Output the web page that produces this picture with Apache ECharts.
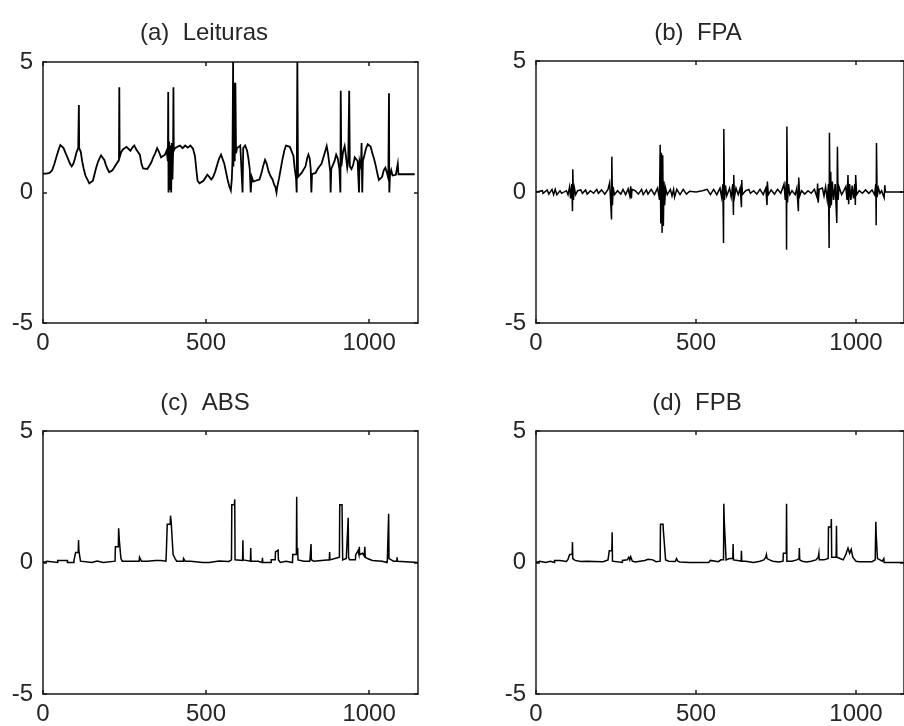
<!DOCTYPE html>
<html>
<head>
<meta charset="utf-8">
<script src="https://cdn.jsdelivr.net/npm/echarts@6/dist/echarts.min.js"></script>
<style>
html,body{margin:0;padding:0;background:#fff;}
#chart{width:904px;height:726px;}
</style>
</head>
<body>
<div id="chart"></div>
<script>
// ---- Data ----
var titles = ['(a)  Leituras', '(b)  FPA', '(c)  ABS', '(d)  FPB'];
var xTicks = [0, 500, 1000];
var yTicks = [-5, 0, 5];

// (a) Leituras
var leiturasX = [0,10,20,28,35,42,48,53,58,63,68,73,78,83,88,93,98,103,108,109,110,111,116,120,125,130,136,142,148,153,158,163,168,173,178,183,188,193,198,203,208,213,218,223,228,233,234,235,240,245,250,256,262,268,274,280,286,292,297,302,307,313,320,326,332,338,344,350,356,362,368,374,379,383,384,385,387,389,391,393,395,397,399,400,401,405,412,420,428,436,444,452,460,466,470,474,480,486,492,498,504,510,516,522,528,534,540,546,551,556,561,566,571,576,579,581,583,584,586,588,590,592,595,600,605,610,612,614,620,626,630,634,637,640,645,652,658,664,670,676,681,686,692,698,704,709,713,716,719,724,729,734,740,745,751,757,763,768,772,776,778,780,782,787,793,799,805,810,814,818,821,823,825,830,836,842,848,854,860,866,870,874,878,881,882,884,889,894,899,904,909,912,913,915,920,925,929,933,936,939,941,946,951,956,961,965,969,971,975,977,979,981,986,991,996,1000,1005,1010,1015,1020,1025,1030,1035,1040,1045,1050,1055,1059,1061,1062,1064,1068,1072,1077,1082,1086,1088,1090,1095,1100,1140];
var leiturasY = [0.72,0.72,0.75,0.85,1.1,1.4,1.65,1.82,1.78,1.7,1.55,1.4,1.25,1.1,1.0,1.1,1.3,1.55,1.7,1.7,3.35,1.7,1.55,1.2,0.9,0.65,0.5,0.35,0.3,0.45,0.7,0.95,1.15,1.3,1.42,1.38,1.25,1.05,0.9,0.78,0.75,0.85,0.95,1.05,1.15,1.25,4.03,1.35,1.55,1.65,1.68,1.75,1.7,1.6,1.72,1.8,1.65,1.7,1.45,1.1,0.92,0.88,0.9,0.95,1.15,1.35,1.5,1.7,1.55,1.35,1.3,1.45,1.6,1.2,3.85,0.0,1.95,0.1,1.8,0.0,1.9,0.5,1.6,4.03,1.6,1.7,1.75,1.8,1.7,1.8,1.72,1.8,1.68,1.4,0.9,0.45,0.35,0.4,0.45,0.5,0.68,0.6,0.5,0.6,0.8,1.05,1.3,1.45,1.4,1.1,0.8,0.5,0.25,0.08,0.5,1.2,5.0,1.0,4.2,1.2,4.2,1.5,1.7,1.65,1.8,1.75,0.0,1.7,1.8,1.6,1.3,0.9,0.0,0.6,0.42,0.45,0.4,0.5,0.75,1.05,1.25,1.1,0.8,0.62,0.5,0.3,0.2,0.0,0.25,0.55,0.9,1.25,1.6,1.8,1.82,1.75,1.8,1.4,0.9,0.55,0.0,5.0,0.6,0.62,0.75,0.8,1.0,1.3,1.45,1.3,0.9,0.0,0.7,0.68,0.75,0.9,0.92,1.1,1.35,1.6,1.78,1.5,1.1,0.8,0.0,0.9,0.9,1.2,1.45,1.3,0.9,0.0,3.9,1.0,1.55,1.78,1.4,0.95,1.2,3.9,1.0,0.9,1.05,1.35,1.4,1.2,0.0,1.2,1.0,1.9,0.0,1.2,1.45,1.7,1.85,1.92,1.75,1.5,1.3,1.05,0.75,0.48,0.45,0.6,0.85,0.95,0.75,0.55,3.8,0.0,0.65,0.85,0.65,0.7,0.68,0.7,1.1,0.7,0.72,0.7,0.7];

// (b) FPA
var fpaX = [0,20,22,35,40,50,55,60,65,75,80,95,100,105,108,112,114,115,117,120,124,130,140,145,155,160,170,180,190,195,205,215,225,230,233,236,237,239,241,245,255,265,272,280,288,293,296,298,300,310,320,330,335,345,350,360,370,380,386,388,390,392,394,396,398,400,402,405,410,420,425,430,433,440,450,460,470,480,500,520,535,545,555,565,575,580,584,586,587,589,592,596,605,610,615,617,618,620,625,632,638,642,643,645,655,665,670,680,690,700,710,718,722,723,726,735,745,755,765,775,779,782,783,784,786,789,793,800,810,815,820,821,824,830,840,850,860,870,878,880,882,885,895,900,905,910,914,916,917,919,921,923,926,930,935,940,942,944,947,955,962,968,972,975,977,980,984,988,992,996,998,999,1002,1010,1020,1030,1040,1050,1058,1062,1063,1064,1066,1070,1075,1080,1088,1090,1092,1150];
var fpaY = [0,0.05,-0.05,0.08,-0.08,0.1,-0.1,0.1,-0.1,0.05,-0.05,0.05,-0.1,0.2,-0.25,0.3,-0.73,0.87,-0.3,0.15,-0.1,0.05,0.08,-0.05,0.08,-0.08,0.05,-0.05,0.1,-0.05,0.08,-0.08,0.1,0.35,-0.3,-1.05,1.35,-0.5,0.2,-0.1,0.05,-0.08,0.1,-0.1,0.12,-0.15,0.22,-0.25,0.1,0.05,-0.08,0.1,-0.1,0.08,-0.08,0.1,-0.1,0.15,-0.3,1.8,-1.2,1.5,-1.56,1.4,-1.3,0.4,-0.5,0.15,-0.1,0.1,-0.15,0.1,-0.2,0.1,-0.1,0.1,-0.08,0.03,0,0.05,0.1,-0.1,0.1,-0.1,0.15,-0.2,0.3,-1.95,2.4,-0.3,0.25,-0.15,0.15,-0.2,0.3,-0.88,0.65,-0.2,0.15,-0.1,0.15,-0.58,0.46,-0.1,0.05,0.1,-0.05,0.05,-0.08,0.1,-0.1,0.15,-0.5,0.4,-0.1,0.08,-0.08,0.1,-0.05,0.3,-0.3,0.4,-2.2,2.5,-0.4,0.3,-0.1,0.05,-0.1,0.15,-0.73,0.55,-0.15,0.05,-0.08,0.05,-0.05,0.1,-0.2,0.32,-0.41,0.1,0.15,-0.15,0.2,-0.3,0.3,-2.14,2.26,-0.6,0.77,-0.5,0.4,-0.3,0.3,-1.18,1.73,-0.3,0.2,-0.1,0.05,0.2,-0.3,0.65,-0.47,0.3,-0.3,0.25,-0.25,0.3,-0.5,0.65,-0.1,0.05,-0.05,0.08,-0.05,0.08,-0.1,0.3,-1.27,1.87,-0.2,0.15,-0.05,0.05,-0.22,0.26,0,0];

// (c) ABS
var absX = [0,6,6,12,12,45,45,75,75,95,95,100,100,108,109,110,114,115,121,121,150,150,166,166,185,185,221,222,231,232,234,238,239,242,243,262,262,268,268,280,280,285,285,295,296,301,302,320,320,323,323,345,345,350,350,362,362,377,378,380,381,390,391,393,398,399,404,405,410,430,431,435,436,452,452,490,490,494,494,510,510,540,540,570,575,578,579,587,588,589,612,613,614,620,620,636,637,638,660,660,672,673,674,700,700,712,713,718,721,722,728,728,733,733,745,745,765,766,777,778,779,781,782,800,818,819,821,822,823,830,878,879,880,895,909,910,917,918,919,930,935,936,937,940,958,959,966,969,970,971,980,985,987,988,995,1000,1010,1040,1040,1055,1056,1059,1060,1061,1068,1075,1085,1086,1087,1092,1150];
var absY = [0,0,0.05,0.05,0,0,0.08,0.08,0,0,0.08,0.08,0.38,0.38,0.85,0.45,0.45,0.05,0.05,0,0,0.06,0.06,0,0,0.05,0.05,0.6,0.6,1.3,0.85,0.85,0.15,0.15,0.05,0.05,0.1,0.1,0.05,0.05,0.12,0.12,0.05,0.05,0.2,0.2,0.05,0.05,0,0,0.08,0.08,0.12,0.12,0.08,0.08,0.05,0.05,0.3,0.3,1.45,1.45,1.78,1.55,1.55,0.3,0.3,0.15,0.05,0.05,0.15,0.15,0.05,0.05,0,0,0.06,0.06,0,0,0.06,0.06,0.04,0.04,0.1,0.1,2.2,2.2,2.4,0.1,0.08,0.85,0.1,0.1,0.05,0.05,0.55,0.05,0.05,0,0,0.18,0,0,0.1,0.1,0.4,0.42,0.47,0.1,0.1,0,0,0.05,0.05,0,0,0.3,0.3,2.5,0.3,0.55,0.1,0.05,0.05,0.15,0.15,0.7,0.1,0.05,0.1,0.4,0.1,0.15,0.2,2.2,2.2,2.25,0.1,0.15,0.2,1.7,0.2,0.1,0.1,0.3,0.45,0.3,0.6,0.3,0.35,0.25,0.6,0.2,0.15,0.1,0.08,0.05,0,0,0.1,0.1,1.85,0.15,0.1,0.05,0.05,0.2,0.05,0,0];

// (d) FPB
var fpbX = [0,4,4,12,12,30,30,45,45,58,58,75,75,95,100,104,105,113,114,115,122,140,160,180,210,225,228,229,237,238,239,245,270,270,285,290,293,296,300,301,310,340,350,355,365,375,388,389,397,398,404,405,415,435,439,442,443,450,480,502,502,506,506,540,545,550,570,578,586,587,588,593,594,605,610,615,616,617,630,641,642,643,655,665,680,700,712,718,720,722,730,740,760,772,773,782,783,784,800,815,822,823,824,832,845,860,875,882,884,885,900,913,914,922,923,924,938,939,940,950,960,968,972,975,980,985,990,995,1000,1010,1050,1060,1062,1063,1066,1067,1075,1082,1087,1088,1150];
var fpbY = [0,0,0.05,0.05,0,0,0.05,0.05,0,0,0.08,0.08,0.04,0.04,0.12,0.12,0.3,0.3,0.78,0.15,0.08,0.04,0.05,0.04,0.03,0.1,0.1,0.45,0.45,1.15,0.05,0,0,0.08,0.1,0.2,0.1,0.22,0.22,0.05,0.02,0.08,0.12,0.08,0.1,0.03,0.05,1.45,1.45,1.22,1.22,0.1,0.05,0.04,0.15,0.15,0.05,0.02,0,0,0.06,0.06,0,0,0.08,0.02,0.03,0.1,0.1,2.23,1.68,1.68,0.1,0.15,0.1,0.15,0.7,0.1,0.08,0.05,0.45,0.05,0.05,0.03,0,0.05,0.1,0.2,0.3,0.15,0.1,0.05,0.02,0.05,0.35,0.35,2.23,0.05,0.05,0.1,0.15,0.55,0.1,0.05,0.02,0.05,0.1,0.2,0.35,0.1,0.1,0.15,1.35,1.35,1.65,0.2,0.2,1.4,0.2,0.15,0.1,0.3,0.45,0.55,0.35,0.5,0.2,0.15,0.05,0.03,0.03,0.1,1.55,1.1,1.1,0.15,0.1,0.05,0.15,0,0];

var seriesX = [leiturasX, fpaX, absX, fpbX];
var seriesY = [leiturasY, fpaY, absY, fpbY];

function zip(xs, ys) {
  var out = [];
  for (var i = 0; i < xs.length; i++) out.push([xs[i], ys[i]]);
  return out;
}

// ---- Layout ----
var grids = [
  {left: 43, top: 62, width: 375, height: 261},
  {left: 536, top: 61, width: 376, height: 262},
  {left: 43, top: 431, width: 375, height: 263},
  {left: 536, top: 431, width: 376, height: 263}
];
var titlePos = [[204, 21], [698, 21], [205, 391], [697, 391]];

var FONT = 'Liberation Sans, Arial, sans-serif';
var AX = '#1a1a1a';
var TXT = '#262626';

var option = {
  animation: false,
  backgroundColor: '#fff',
  title: [], grid: [], xAxis: [], yAxis: [], series: []
};

function plain(v) { return String(v); }

for (var g = 0; g < 4; g++) {
  option.grid.push(Object.assign({containLabel: false}, grids[g]));
  option.title.push({
    text: titles[g], left: titlePos[g][0], top: titlePos[g][1], textAlign: 'center',
    textStyle: {fontFamily: FONT, fontSize: 24, fontWeight: 'normal', color: TXT},
    padding: 0
  });
  var lineStyle = {color: AX, width: 1.5};
  option.xAxis.push({
    type: 'value', gridIndex: g, position: 'bottom', min: 0, max: 1150,
    axisLine: {show: true, onZero: false, lineStyle: lineStyle},
    axisTick: {show: true, inside: true, length: 4, customValues: xTicks, lineStyle: {color: AX, width: 1.5}},
    axisLabel: {show: true, customValues: xTicks, formatter: plain, margin: 8, fontFamily: FONT, fontSize: 24, color: TXT},
    splitLine: {show: false}
  });
  option.xAxis.push({
    type: 'value', gridIndex: g, position: 'top', min: 0, max: 1150,
    axisLine: {show: true, onZero: false, lineStyle: lineStyle},
    axisTick: {show: true, inside: true, length: 4, customValues: xTicks, lineStyle: {color: AX, width: 1.5}},
    axisLabel: {show: false},
    splitLine: {show: false}
  });
  option.yAxis.push({
    type: 'value', gridIndex: g, position: 'left', min: -5, max: 5, interval: 5,
    axisLine: {show: true, onZero: false, lineStyle: lineStyle},
    axisTick: {show: true, inside: true, length: 4, customValues: yTicks, lineStyle: {color: AX, width: 1.5}},
    axisLabel: {show: true, customValues: yTicks, formatter: plain, margin: 10, fontFamily: FONT, fontSize: 24, color: TXT},
    splitLine: {show: false}
  });
  option.yAxis.push({
    type: 'value', gridIndex: g, position: 'right', min: -5, max: 5, interval: 5,
    axisLine: {show: true, onZero: false, lineStyle: lineStyle},
    axisTick: {show: true, inside: true, length: 4, customValues: yTicks, lineStyle: {color: AX, width: 1.5}},
    axisLabel: {show: false},
    splitLine: {show: false}
  });
  option.series.push({
    type: 'line', xAxisIndex: g * 2, yAxisIndex: g * 2,
    data: zip(seriesX[g], seriesY[g]),
    showSymbol: false, symbol: 'none', clip: true, smooth: false,
    lineStyle: {color: '#000', width: g === 0 ? 1.8 : 1.5, join: 'miter'},
    emphasis: {disabled: true}
  });
}

var chart = echarts.init(document.getElementById('chart'), null, {renderer: 'canvas'});
chart.setOption(option);
</script>
</body>
</html>
